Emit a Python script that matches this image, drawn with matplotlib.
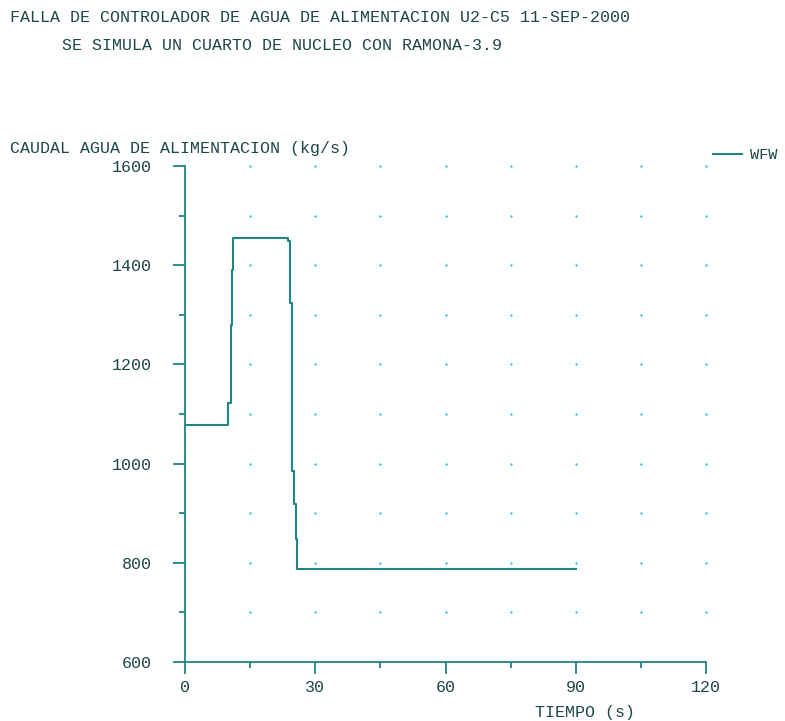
import matplotlib
matplotlib.use("Agg")
import matplotlib.pyplot as plt
import numpy as np

TITLE_LINES = [
    "FALLA DE CONTROLADOR DE AGUA DE ALIMENTACION U2-C5 11-SEP-2000",
    "SE SIMULA UN CUARTO DE NUCLEO CON RAMONA-3.9",
]
Y_LABEL = "CAUDAL AGUA DE ALIMENTACION (kg/s)"
X_LABEL = "TIEMPO (s)"
SERIES_NAME = "WFW"

# feedwater flow, sampled as a staircase (value held until next time)
time_s = [0.0, 10.0, 10.5, 10.8, 11.1, 23.7, 24.2, 24.6, 25.2, 25.5, 25.9, 90.0]
flow_kgs = [1078, 1123, 1280, 1390, 1455, 1448, 1324, 985, 918, 847, 787, 787]

x_major = [0, 30, 60, 90, 120]
x_minor = [15, 45, 75, 105]
y_major = [600, 800, 1000, 1200, 1400, 1600]
y_minor = [700, 900, 1100, 1300, 1500]

TEXT_COLOR = "#1d4646"
LINE_COLOR = "#1f8585"
DOT_COLOR = "#33c8d0"
FONT = "Liberation Mono"

W, H = 785, 721
fig = plt.figure(figsize=(W / 100, H / 100), dpi=100)
ax = fig.add_axes([185 / W, 1 - 662 / H, (706 - 185) / W, (662 - 166) / H])

ax.plot(time_s, flow_kgs, drawstyle="steps-post", color=LINE_COLOR, lw=1.5,
        label=SERIES_NAME, zorder=3)

# dotted grid
gx, gy = np.meshgrid(np.arange(15, 121, 15), np.arange(700, 1601, 100))
ax.scatter(gx.ravel(), gy.ravel(), s=3, color=DOT_COLOR, linewidths=0,
           zorder=1, clip_on=False)

ax.set_xlim(0, 120)
ax.set_ylim(600, 1600)
ax.set_xticks(x_major)
ax.set_xticks(x_minor, minor=True)
ax.set_yticks(y_major)
ax.set_yticks(y_minor, minor=True)

for side in ("top", "right"):
    ax.spines[side].set_visible(False)
for side in ("left", "bottom"):
    ax.spines[side].set_color(LINE_COLOR)
    ax.spines[side].set_linewidth(1.3)

ax.tick_params(which="major", length=8.6, width=1.3, color=LINE_COLOR,
               labelsize=12, labelcolor=TEXT_COLOR)
ax.tick_params(which="minor", length=4.3, width=1.3, color=LINE_COLOR)
ax.tick_params(axis="y", which="major", pad=15)
ax.tick_params(axis="x", which="major", pad=4)
for lab in ax.get_xticklabels() + ax.get_yticklabels():
    lab.set_fontfamily(FONT)

fig.text(10 / W, 1 - 17 / H, TITLE_LINES[0], ha="left", va="center",
         fontsize=12, family=FONT, color=TEXT_COLOR)
fig.text(62 / W, 1 - 46 / H, TITLE_LINES[1], ha="left", va="center",
         fontsize=12, family=FONT, color=TEXT_COLOR)
fig.text(10 / W, 1 - 148 / H, Y_LABEL, ha="left", va="center",
         fontsize=12, family=FONT, color=TEXT_COLOR)
fig.text(585 / W, 1 - 712 / H, X_LABEL, ha="center", va="center",
         fontsize=12, family=FONT, color=TEXT_COLOR)

ax.legend(loc="center left", bbox_to_anchor=(713 / W, 1 - 155 / H),
          bbox_transform=fig.transFigure, frameon=False, borderpad=0,
          borderaxespad=0, handlelength=1.9, handletextpad=0.5,
          prop={"family": FONT, "size": 11}, labelcolor=TEXT_COLOR)

fig.savefig("out.png", dpi=100, facecolor="white")
